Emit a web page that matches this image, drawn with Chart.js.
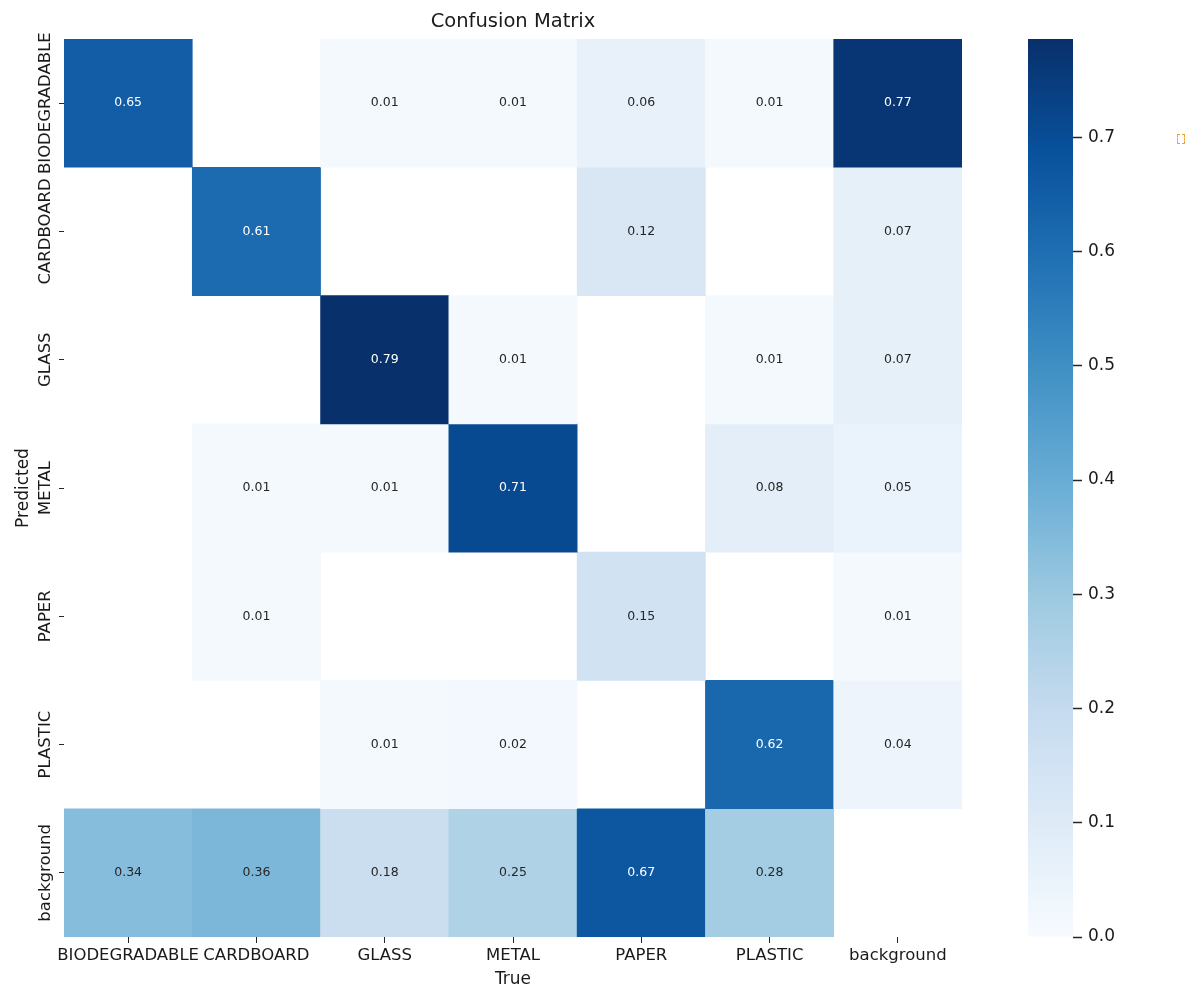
<!DOCTYPE html>
<html>
<head>
<meta charset="utf-8">
<script src="https://cdn.jsdelivr.net/npm/chart.js@4.4.1/dist/chart.umd.min.js"></script>
<style>
html, body { margin: 0; padding: 0; background: #ffffff; }
#wrap { position: relative; width: 1200px; height: 998px; overflow: hidden; }
#wrap canvas { position: absolute; left: 0; top: 0; }
#mark { position: absolute; left: 1177px; top: 134px; width: 6px; height: 8px; border: 1px dashed #f0a030; }
</style>
</head>
<body>
<div id="wrap">
  <canvas id="hm" width="1200" height="998"></canvas>
  <canvas id="cb" width="1200" height="998"></canvas>
  <div id="mark"></div>
</div>
<script>
// ---------- data ----------
const TRUE_LABELS = ['BIODEGRADABLE', 'CARDBOARD', 'GLASS', 'METAL', 'PAPER', 'PLASTIC', 'background'];
const PREDICTED_LABELS = ['BIODEGRADABLE', 'CARDBOARD', 'GLASS', 'METAL', 'PAPER', 'PLASTIC', 'background'];

const ROW_BIODEGRADABLE = [0.65, null, 0.01, 0.01, 0.06, 0.01, 0.77];
const ROW_CARDBOARD     = [null, 0.61, null, null, 0.12, null, 0.07];
const ROW_GLASS         = [null, null, 0.79, 0.01, null, 0.01, 0.07];
const ROW_METAL         = [null, 0.01, 0.01, 0.71, null, 0.08, 0.05];
const ROW_PAPER         = [null, 0.01, null, null, 0.15, null, 0.01];
const ROW_PLASTIC       = [null, null, 0.01, 0.02, null, 0.62, 0.04];
const ROW_BACKGROUND    = [0.34, 0.36, 0.18, 0.25, 0.67, 0.28, null];

const COLORBAR_MIN = 0.0;
const COLORBAR_MAX = 0.786;
const COLORBAR_TICKS = [0.0, 0.1, 0.2, 0.3, 0.4, 0.5, 0.6, 0.7];

const BLUES = ['#f7fbff', '#deebf7', '#c6dbef', '#9ecae1', '#6baed6', '#4292c6', '#2171b5', '#08519c', '#08306b'];

const ROWS = [ROW_BIODEGRADABLE, ROW_CARDBOARD, ROW_GLASS, ROW_METAL, ROW_PAPER, ROW_PLASTIC, ROW_BACKGROUND];

// ---------- helpers ----------
const FONT = '"DejaVu Sans", "Liberation Sans", sans-serif';
const TEXT = '#1a1a1a';

function hexToRgb(h) {
  const n = parseInt(h.slice(1), 16);
  return [(n >> 16) & 255, (n >> 8) & 255, n & 255];
}
function bluesRgb(v) {
  let f = (v - COLORBAR_MIN) / (COLORBAR_MAX - COLORBAR_MIN);
  f = Math.max(0, Math.min(1, f));
  const n = BLUES.length - 1;
  const pos = f * n;
  const i = Math.min(Math.floor(pos), n - 1);
  const t = pos - i;
  const a = hexToRgb(BLUES[i]), b = hexToRgb(BLUES[i + 1]);
  return [0, 1, 2].map(k => Math.round(a[k] + (b[k] - a[k]) * t));
}
function blues(v) {
  const c = bluesRgb(v);
  return `rgb(${c[0]},${c[1]},${c[2]})`;
}
function textColorFor(v) {
  const c = bluesRgb(v).map(x => {
    x = x / 255;
    return x <= 0.03928 ? x / 12.92 : Math.pow((x + 0.055) / 1.055, 2.4);
  });
  const lum = 0.2126 * c[0] + 0.7152 * c[1] + 0.0722 * c[2];
  return lum > 0.408 ? '#262626' : '#ffffff';
}

// measure the widest y label to centre rotated labels next to their ticks
const TICK_SIZE = 16.5;
const mctx = document.createElement('canvas').getContext('2d');
mctx.font = `normal ${TICK_SIZE}px ${FONT}`;
const widestY = Math.max(...PREDICTED_LABELS.map(l => mctx.measureText(l).width));
const Y_TICK_LEN = 5;
const Y_LABEL_CENTER_GAP = 64 - 45.5; // distance from plot edge to label centre
const Y_TICK_PADDING = Y_LABEL_CENTER_GAP - Y_TICK_LEN - widestY / 2;

// ---------- annotation plugin ----------
const annotate = {
  id: 'annotate',
  afterDatasetsDraw(chart) {
    const ctx = chart.ctx;
    ctx.save();
    ctx.font = `normal 12.5px ${FONT}`;
    ctx.textAlign = 'center';
    ctx.textBaseline = 'middle';
    chart.data.datasets.forEach((ds, i) => {
      const meta = chart.getDatasetMeta(i);
      meta.data.forEach((el, j) => {
        const v = ds.values[j];
        if (v == null) return;
        ctx.fillStyle = textColorFor(v);
        ctx.fillText(v.toFixed(2), el.x, (el.y + el.base) / 2);
      });
    });
    ctx.restore();
  }
};

// ---------- heatmap ----------
const datasets = ROWS.map((row, i) => ({
  label: PREDICTED_LABELS[i],
  data: row.map(v => (v == null ? null : [i, i + 1])),
  values: row,
  backgroundColor: row.map(v => (v == null ? 'rgba(0,0,0,0)' : blues(v))),
  borderWidth: 0,
  barPercentage: 1,
  categoryPercentage: 1,
  grouped: false,
  xAxisID: 'x',
  yAxisID: 'y'
}));

new Chart(document.getElementById('hm'), {
  type: 'bar',
  data: { labels: TRUE_LABELS, datasets },
  options: {
    responsive: false,
    animation: false,
    devicePixelRatio: 1,
    layout: { padding: { left: 0, right: 238, top: 0, bottom: 0 } },
    plugins: {
      legend: { display: false },
      tooltip: { enabled: false },
      title: {
        display: true,
        text: 'Confusion Matrix',
        fullSize: false,
        color: TEXT,
        font: { family: FONT, size: 19.5, weight: 'normal', lineHeight: 1.2 },
        padding: { top: 10, bottom: 5.6 }
      }
    },
    scales: {
      x: {
        type: 'category',
        position: 'bottom',
        offset: true,
        grid: { offset: false, drawOnChartArea: false, drawTicks: true, tickLength: 6, color: '#262626', tickColor: '#262626', tickWidth: 1 },
        border: { display: false },
        ticks: { color: TEXT, font: { family: FONT, size: TICK_SIZE }, padding: 3, minRotation: 0, maxRotation: 0, autoSkip: false },
        title: { display: true, text: 'True', color: TEXT, font: { family: FONT, size: 17, lineHeight: 1.2 }, padding: { top: 0, bottom: 8.5 } },
        afterFit(s) { s.height = 61; }
      },
      y: { type: 'linear', min: 0, max: 7, reverse: true, display: false },
      yCat: {
        type: 'category',
        position: 'left',
        labels: PREDICTED_LABELS,
        offset: true,
        grid: { offset: false, drawOnChartArea: false, drawTicks: true, tickLength: Y_TICK_LEN, color: '#262626', tickColor: '#262626', tickWidth: 1 },
        border: { display: false },
        ticks: {
          color: TEXT, font: { family: FONT, size: TICK_SIZE },
          minRotation: 90, maxRotation: 90, autoSkip: false,
          crossAlign: 'center', padding: Y_TICK_PADDING
        },
        title: { display: true, text: 'Predicted', color: TEXT, font: { family: FONT, size: 17, lineHeight: 1.2 }, padding: { top: 13.5, bottom: 0 } },
        afterFit(s) { s.width = 64; }
      }
    }
  },
  plugins: [annotate]
});

// ---------- colorbar ----------
new Chart(document.getElementById('cb'), {
  type: 'bar',
  data: {
    labels: ['colorbar'],
    datasets: [{
      data: [[COLORBAR_MIN, COLORBAR_MAX]],
      backgroundColor(ctx) {
        const a = ctx.chart.chartArea;
        if (!a) return BLUES[0];
        const g = ctx.chart.ctx.createLinearGradient(0, a.bottom, 0, a.top);
        BLUES.forEach((c, k) => g.addColorStop(k / (BLUES.length - 1), c));
        return g;
      },
      borderWidth: 0,
      barPercentage: 1,
      categoryPercentage: 1
    }]
  },
  options: {
    responsive: false,
    animation: false,
    devicePixelRatio: 1,
    layout: { padding: { left: 1028, right: 1200 - 1073 - 80, top: 39, bottom: 61 } },
    plugins: { legend: { display: false }, tooltip: { enabled: false }, title: { display: false } },
    scales: {
      x: { display: false, offset: true },
      y: {
        position: 'right',
        min: COLORBAR_MIN,
        max: COLORBAR_MAX,
        afterBuildTicks(s) { s.ticks = COLORBAR_TICKS.map(v => ({ value: v })); },
        grid: { drawOnChartArea: false, drawTicks: true, tickLength: 9, color: '#262626', tickColor: '#262626', tickWidth: 1.5 },
        border: { display: false },
        ticks: { color: TEXT, font: { family: FONT, size: 17 }, padding: 6, callback: v => Number(v).toFixed(1) },
        afterFit(s) { s.width = 80; }
      }
    }
  }
});
</script>
</body>
</html>
